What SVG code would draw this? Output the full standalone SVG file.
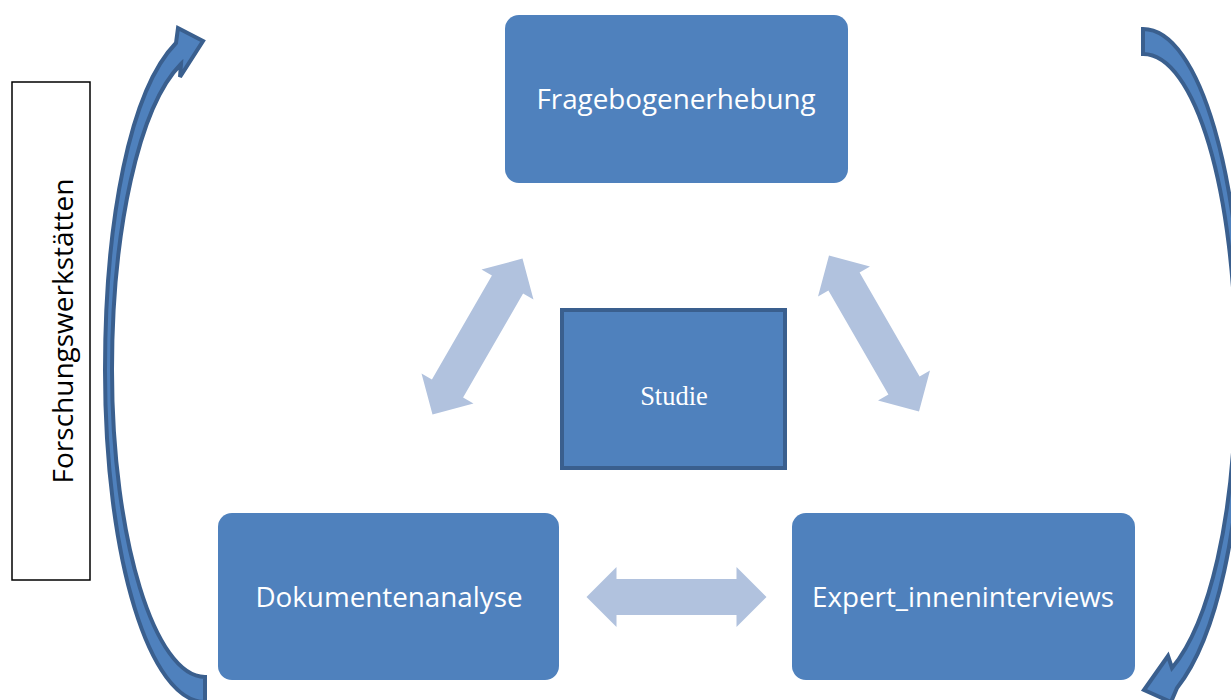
<svg xmlns="http://www.w3.org/2000/svg" width="1231" height="700" viewBox="0 0 1231 700">
<style>
.box{fill:#4F81BD;}
.lbl{font-family:"Open Sans","Liberation Sans",sans-serif;font-size:27.8px;fill:#FFFFFF;text-anchor:middle;dominant-baseline:central;}
.dbl{fill:#B1C2DE;}
.curve{fill:#4F81BD;stroke:#3A5F8E;stroke-width:4;stroke-linejoin:miter;}
</style>
<defs>
<path id="dblArrow" d="M -90,0 L -60,-30 L -60,-18 L 60,-18 L 60,-30 L 90,0 L 60,30 L 60,18 L -60,18 L -60,30 Z"/>
</defs>
<rect width="1231" height="700" fill="#FFFFFF"/>
<g id="connectors">
<use href="#dblArrow" class="dbl" transform="translate(477.5,336.5) rotate(-60)"/>
<use href="#dblArrow" class="dbl" transform="translate(874,333.5) rotate(60)"/>
<use href="#dblArrow" class="dbl" transform="translate(676.5,597)"/>
<path class="curve" d="M 205,702 C 150,702 105,560 105,370 C 105,220 130,90 176,43 L 178,28 L 203,41 L 180,77 L 181,64 C 139,106 112,230 112,370 C 112,540 155,677 205,677 Z"/>
<path class="curve" d="M 1143,29 C 1200,29 1243,180 1243,370 C 1243,530 1215,640 1177,688 L 1171,702 L 1144,690 L 1168,656 L 1172,668 C 1208,625 1236,520 1236,370 C 1236,190 1195,54 1143,54 Z"/>
</g>
<g id="label-forschung">
<rect x="12" y="82" width="78" height="498" fill="#FFFFFF" stroke="#000000" stroke-width="1.5"/>
<text transform="translate(62,331) rotate(-90)" style="font-family:'Open Sans','Liberation Sans',sans-serif;font-size:28px;fill:#000000;text-anchor:middle;dominant-baseline:central;">Forschungswerkstätten</text>
</g>
<g id="node-fragebogen">
<rect class="box" x="505" y="15" width="343" height="168" rx="14"/>
<text class="lbl" x="676" y="98">Fragebogenerhebung</text>
</g>
<g id="node-studie">
<rect x="562" y="310" width="223" height="158" fill="#4F81BD" stroke="#3A5F8E" stroke-width="4"/>
<text x="674" y="396" style="font-family:'Liberation Serif',serif;font-size:26.5px;fill:#FFFFFF;text-anchor:middle;dominant-baseline:central;">Studie</text>
</g>
<g id="node-dokumente">
<rect class="box" x="218" y="513" width="341" height="167" rx="14"/>
<text class="lbl" x="389" y="596">Dokumentenanalyse</text>
</g>
<g id="node-expert">
<rect class="box" x="792" y="513" width="343" height="167" rx="14"/>
<text class="lbl" x="963" y="596">Expert_inneninterviews</text>
</g>
</svg>
